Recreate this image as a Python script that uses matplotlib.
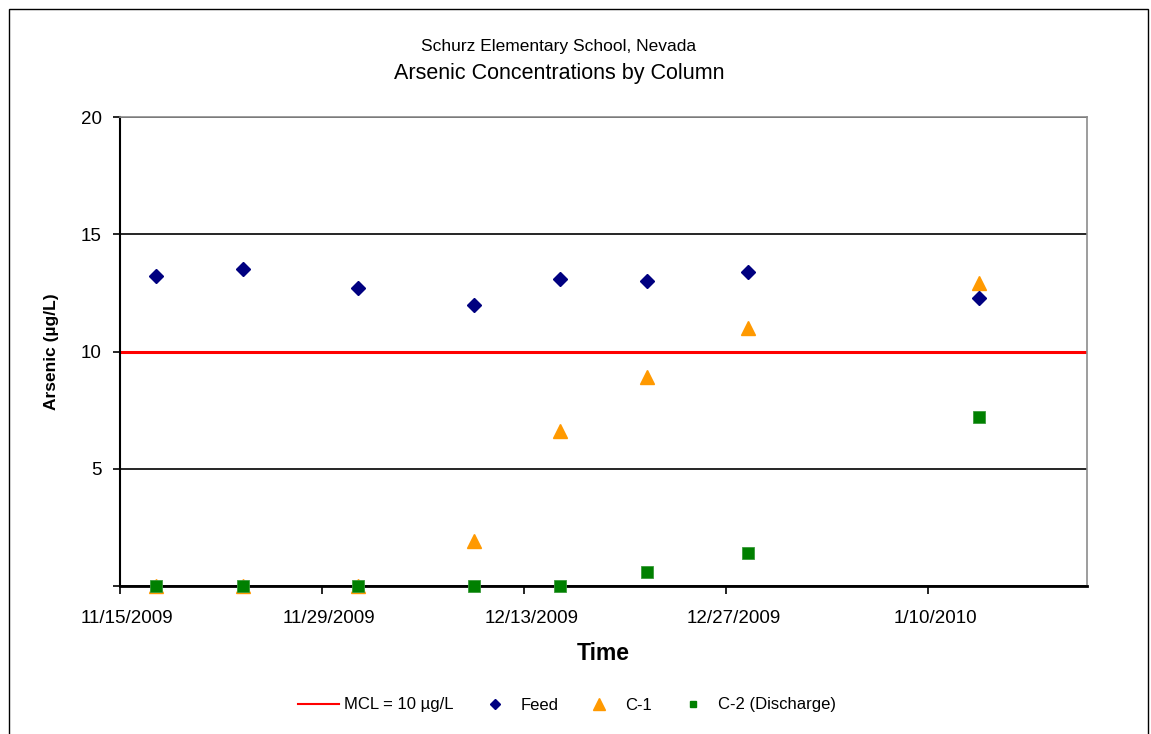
import pandas as pd
import matplotlib.pyplot as plt
import matplotlib.dates as mdates
from matplotlib.lines import Line2D
from matplotlib.patches import Rectangle
from matplotlib.ticker import FuncFormatter

plt.rcParams['font.family'] = ['Liberation Sans', 'DejaVu Sans']

# sample dates and arsenic results (ug/L)
dates = ['2009-11-17', '2009-11-23', '2009-12-01', '2009-12-09',
         '2009-12-15', '2009-12-21', '2009-12-28', '2010-01-13']
feed = [13.2, 13.5, 12.7, 12.0, 13.1, 13.0, 13.4, 12.3]
c1 = [0.0, 0.0, 0.0, 1.9, 6.6, 8.9, 11.0, 12.9]
c2 = [0.0, 0.0, 0.0, 0.0, 0.0, 0.6, 1.4, 7.2]
mcl = 10

x_start = '2009-11-15'
x_end = '2010-01-21'
tick_days = 14
y_ticks = [0, 5, 10, 15, 20]

W, H = 1151, 734
fig = plt.figure(figsize=(W / 100, H / 100), dpi=100)
ax = fig.add_axes([120 / W, 1 - 586 / H, (1087 - 120) / W, (586 - 117) / H])

# excel puts each point in the middle of its day on a date axis
half = pd.Timedelta(hours=12)
t = pd.to_datetime(dates) + half

ax.axhline(mcl, color='#FF0000', lw=2.2, zorder=2)
ax.plot(t, c1, ls='none', marker='^', ms=10, color='#FF9900', mec='#FF9900',
        clip_on=False, zorder=3)
ax.plot(t, c2, ls='none', marker='s', ms=8.6, color='#008000', mec='#3a9a3a', mew=0.6,
        clip_on=False, zorder=4)
ax.plot(t, feed, ls='none', marker='D', ms=7, color='#000080', mec='#000080',
        clip_on=False, zorder=5)

# axes limits and ticks
x0 = pd.Timestamp(x_start)
x1 = pd.Timestamp(x_end)
ax.set_xlim(x0, x1)
ax.set_ylim(0, 20)
ax.set_yticks(y_ticks)
ax.yaxis.set_major_formatter(FuncFormatter(lambda v, p: '' if v == 0 else '%d' % v))

major = pd.date_range(x0, x1, freq='%dD' % tick_days)
ax.set_xticks(major)
ax.set_xticks(major + half, minor=True)
ax.xaxis.set_major_formatter(FuncFormatter(lambda v, p: ''))
ax.xaxis.set_minor_formatter(FuncFormatter(
    lambda v, p: '%d/%d/%d' % (mdates.num2date(v).month, mdates.num2date(v).day, mdates.num2date(v).year)))
ax.tick_params(axis='x', which='major', direction='out', length=6, width=1.2, color='black')
ax.tick_params(axis='x', which='minor', length=0, labelsize=13.5, pad=17)
ax.tick_params(axis='y', direction='out', length=5, width=1.2, labelsize=13.5, pad=8)

ax.grid(axis='y', color='black', lw=1.2)
ax.set_axisbelow(True)
for s in ['top', 'right']:
    ax.spines[s].set_color('#8c8c8c')
    ax.spines[s].set_linewidth(1.2)
ax.spines['left'].set_linewidth(1.5)
ax.spines['bottom'].set_linewidth(2.0)

ax.set_xlabel('Time', fontsize=16.5, fontweight='bold', labelpad=11)
ax.set_ylabel('Arsenic (µg/L)', fontsize=12.5, fontweight='bold', labelpad=16)

fig.text(559 / W, 1 - 46 / H, 'Schurz Elementary School, Nevada', ha='center', va='center', fontsize=12.5)
fig.text(559 / W, 1 - 73 / H, 'Arsenic Concentrations by Column', ha='center', va='center', fontsize=15.5)

# legend with smaller markers, like the spreadsheet
handles = [
    Line2D([], [], color='#FF0000', lw=1.5),
    Line2D([], [], ls='none', marker='D', ms=5, color='#000080'),
    Line2D([], [], ls='none', marker='^', ms=8, color='#FF9900'),
    Line2D([], [], ls='none', marker='s', ms=5, color='#008000'),
]
labels = ['MCL = 10 µg/L', 'Feed', 'C-1', 'C-2 (Discharge)']
fig.legend(handles, labels, loc='center', bbox_to_anchor=(567 / W, 1 - 705 / H), ncol=4,
           frameon=False, fontsize=12, handlelength=2.5, handletextpad=0.3,
           columnspacing=1.2, borderpad=0)

# outer chart border
fig.patches.append(Rectangle((9 / W, -0.05), (1148 - 9) / W, (H - 9) / H + 0.05,
                             transform=fig.transFigure, fill=False, ec='black', lw=1.0))

fig.savefig('out.png', dpi=100)
